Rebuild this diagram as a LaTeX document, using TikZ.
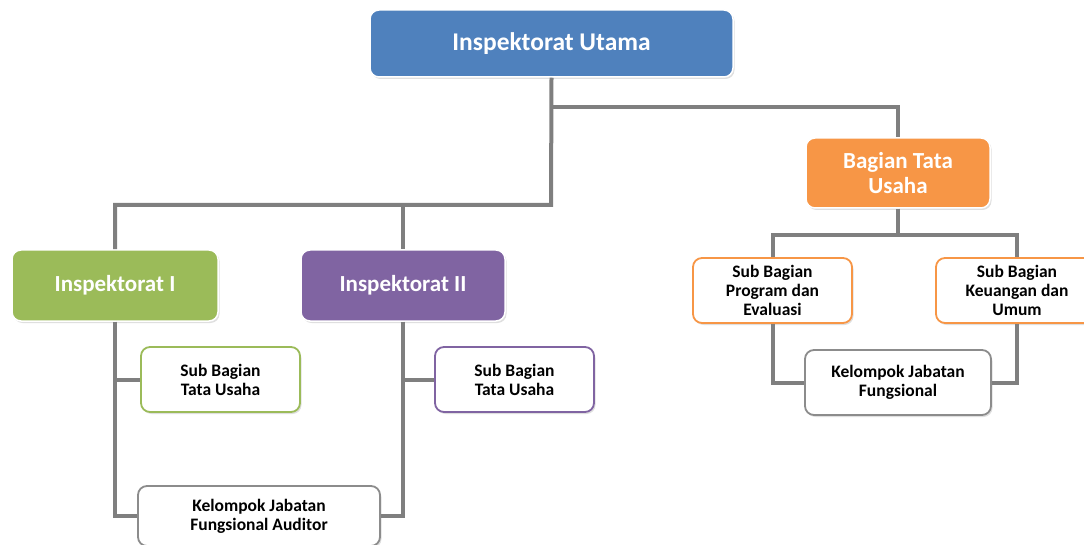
\documentclass[tikz,border=0pt]{standalone}
\usepackage{fontspec}
\setmainfont{Carlito}
\usetikzlibrary{shadows}
\definecolor{cblue}{HTML}{4F81BD}
\definecolor{cgreen}{HTML}{9BBB59}
\definecolor{cpurple}{HTML}{8064A2}
\definecolor{corange}{HTML}{F79646}
\definecolor{cline}{HTML}{7F7F7F}
\definecolor{cbord}{HTML}{8C8C8C}
\tikzset{
  base/.style={rounded corners=9pt, align=center, font=\bfseries, inner sep=2pt,
    drop shadow={opacity=0.25, shadow xshift=1.5pt, shadow yshift=-2pt}},
  headbox/.style={base, draw=white, line width=1.5pt, text=white},
  subbox/.style={base, fill=white, line width=1.8pt, text=black,
    font=\bfseries\fontsize{17.5}{19}\selectfont},
  conn/.style={draw=cline, line width=4pt}
}
\begin{document}
\begin{tikzpicture}[x=1pt,y=-1pt]
\useasboundingbox (0,0) rectangle (1084,545);
% head boxes
\node[headbox, fill=cblue, minimum width=363pt, minimum height=67pt,
  font=\bfseries\fontsize{25.5}{30}\selectfont] (top) at (551.5,43.5) {Inspektorat Utama};
\node[headbox, fill=corange, minimum width=184pt, minimum height=70pt,
  font=\bfseries\fontsize{23}{25}\selectfont] (bts) at (898,173) {Bagian Tata\\Usaha};
\node[headbox, fill=cgreen, minimum width=206pt, minimum height=71pt,
  font=\bfseries\fontsize{23}{27}\selectfont] (i1) at (115,285.5) {Inspektorat I};
\node[headbox, fill=cpurple, minimum width=204pt, minimum height=71pt,
  font=\bfseries\fontsize{23}{27}\selectfont] (i2) at (403,285.5) {Inspektorat II};
% sub boxes
\node[subbox, draw=cgreen, minimum width=159pt, minimum height=65pt] (s1) at (220.5,379.5) {Sub Bagian\\Tata Usaha};
\node[subbox, draw=cpurple, minimum width=159pt, minimum height=65pt] (s2) at (514.5,379.5) {Sub Bagian\\Tata Usaha};
\node[subbox, draw=cbord, minimum width=242pt, minimum height=60pt] (kfa) at (259,516) {Kelompok Jabatan\\Fungsional Auditor};
\node[subbox, draw=corange, minimum width=159pt, minimum height=65pt] (sp) at (772.5,290.5) {Sub Bagian\\Program dan\\Evaluasi};
\node[subbox, draw=corange, minimum width=162pt, minimum height=65pt] (sk) at (1017,290.5) {Sub Bagian\\Keuangan dan\\Umum};
\node[subbox, draw=cbord, minimum width=186pt, minimum height=65pt] (kjf) at (898,382.5) {Kelompok Jabatan\\Fungsional};
% junctions
\coordinate (j1) at (551,205);
\coordinate (j2) at (551,107);
\coordinate (j3) at (898,235);
% connectors
\draw[conn] (top.south) -- (j1) -| (i1.north);
\draw[conn] (j1) -| (i2.north);
\draw[conn] (j2) -| (bts.north);
\draw[conn] (bts.south) -- (j3);
\draw[conn] (sp.north) |- (j3) -| (sk.north);
\draw[conn] (i1.south) |- (s1.west);
\draw[conn] (i1.south) |- (kfa.west);
\draw[conn] (i2.south) |- (s2.west);
\draw[conn] (i2.south) |- (kfa.east);
\draw[conn] (sp.south) |- (kjf.west);
\draw[conn] (sk.south) |- (kjf.east);
\end{tikzpicture}
\end{document}
